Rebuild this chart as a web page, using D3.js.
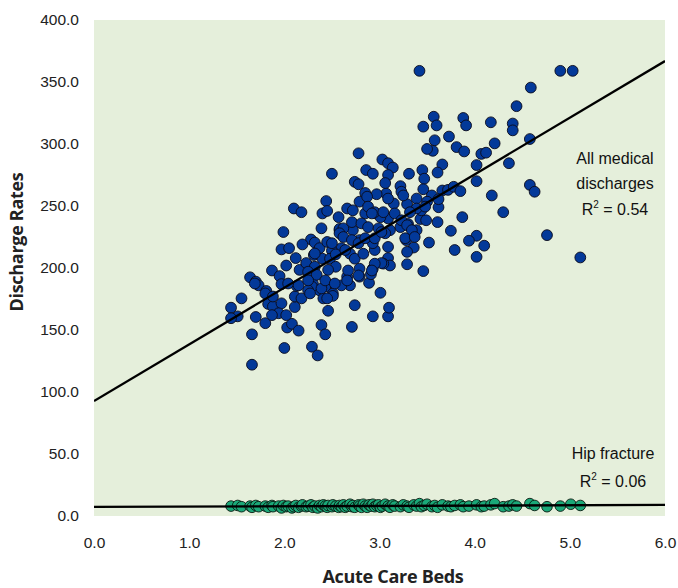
<!DOCTYPE html>
<html>
<head>
<meta charset="utf-8">
<script src="https://cdn.jsdelivr.net/npm/d3@7"></script>
<style>
  body { margin: 0; background: #fff; }
  svg { display: block; }
  .tick text { font-family: "Liberation Sans", Arial, sans-serif; font-size: 15.5px; fill: #222; }
</style>
</head>
<body>
<svg id="chart" width="678" height="588"></svg>
<script>
// ---- Data ----
const xTicks = [0, 1, 2, 3, 4, 5, 6];
const yTicks = [0, 50, 100, 150, 200, 250, 300, 350, 400];

// All medical discharges: [acute care beds, discharge rate]
const medical = [
  [3.42,359],[4.90,359],[5.03,359],[4.59,345.5],[4.44,330.5],[3.57,322],[3.60,315],[3.46,314],
  [3.88,321],[3.91,315],[4.17,317.5],[4.40,316.5],[4.40,311],[3.73,306],[3.58,303],[3.56,294.5],
  [3.50,296],[3.81,297.5],[3.89,294],[4.21,300.5],[4.58,304],[4.07,292],[4.12,293],[2.78,292.5],
  [3.03,287.5],[3.09,284.5],[3.14,281],[3.66,283.5],[4.02,283],[4.36,284.5],[2.86,279],[2.93,276],
  [3.31,276],[3.09,275],[3.45,279],[3.47,272],[3.61,277],[4.02,270],[4.58,267],[4.63,261.5],
  [2.74,269.5],[2.78,267.5],[3.22,266],[3.23,261.5],[3.46,263.5],[3.66,262.5],[3.72,263],[3.78,265.5],
  [3.85,262],[4.18,258.5],[3.07,260],[2.97,259.5],[2.85,260.5],[3.55,258.5],[4.30,245],[3.87,241],
  [3.62,249],[4.76,226.5],[5.11,208.5],[4.02,226],[3.94,222],[4.10,218],[3.79,214.5],[4.02,209],
  [3.75,230],[3.52,220.5],[3.61,237],[3.43,239.5],[3.49,238.5],[3.30,235.5],[3.36,216.5],[3.29,203],
  [3.46,197.5],[3.01,180],[3.09,217],[3.09,208],[3.11,202],[3.28,222.5],[3.29,213],[2.89,188],
  [2.69,186],[2.79,199.5],[2.93,199.5],[2.91,195],[3.04,203.5],[3.22,233],[3.11,230.5],[2.96,244],
  [3.09,240],[3.01,241],[3.29,251.5],[3.15,252],[3.25,258.5],[2.79,253.5],[2.66,248],[2.72,246.5],
  [2.85,244],[3.39,256],[3.50,253.5],[3.44,246.5],[2.72,230.5],[2.58,230.5],[2.79,222.5],[2.69,211.5],
  [2.60,216],[2.74,207.5],[2.83,211.5],[2.95,214.5],[2.93,220],[3.06,228],[2.79,193],[2.66,193],
  [2.60,186],[2.50,276],[2.10,248],[2.18,245],[2.44,254],[2.40,244],[2.45,246],[2.57,241],
  [1.99,229],[2.39,232],[2.58,231.5],[2.28,223],[2.19,219],[2.32,220.5],[2.37,216],[2.45,221],
  [2.50,214],[1.97,215],[2.05,216],[2.12,208],[2.31,210.5],[2.40,207.5],[2.48,207.5],[2.54,211],
  [2.02,202],[1.87,198],[1.95,193.5],[2.24,202.5],[2.16,198.5],[1.64,192.5],[1.70,189],[1.73,186],
  [1.81,181.5],[1.97,187],[2.54,201],[2.30,187.5],[2.37,182],[2.45,186],[2.51,179.5],[1.55,175.5],
  [1.44,168],[1.51,161],[1.44,159.5],[1.70,160.5],[1.80,155.5],[1.66,146.5],[1.66,122],[2.00,135.5],
  [2.03,152],[2.08,155],[2.15,149.5],[2.29,136.5],[2.35,129.5],[2.39,154],[2.43,146.5],[2.46,165.5],
  [2.41,175.5],[2.51,177.5],[2.43,185],[1.83,171],[1.88,169],[1.97,171.5],[1.94,163.5],[2.02,162],
  [2.11,168.5],[2.11,177],[2.13,185.5],[1.80,179.5],[1.69,187.5],[2.29,185],[2.18,175.5],[2.25,182],
  [2.39,183.5],[2.23,204],[2.32,201],[2.46,198.5],[2.25,197],[2.34,194.5],[2.04,187.5],[2.15,186],
  [2.25,190],[2.43,190],[2.32,211.7],
  [3.06,268.5],[2.87,257.5],[3.62,255.5],[2.88,249.5],[2.95,245],[3.09,256],[3.39,248],[3.48,249.5],
  [3.32,245],[3.16,244],[3.04,245],[2.92,244],[3.23,238.5],[3.29,234.5],[3.39,230.5],[2.62,232],
  [2.58,228],[2.71,237],[2.81,236],[2.88,233],[2.99,232],[3.34,230.5],[3.27,224],[3.37,225],
  [3.02,204],[2.95,203.5],[2.92,198],[2.78,194],[2.67,198],[2.66,190],[2.53,187.5],[2.45,175.5],
  [2.74,170],[2.93,161],[3.09,161],[3.10,168],[2.71,152.5],[2.62,225],[2.71,222.5],[2.50,220],
  [2.64,214.5],[2.78,220],[2.85,224],[2.95,224],[3.02,229],[1.87,162],[2.27,179.5],[1.88,177]
];

// Hip fracture: [acute care beds, discharge rate]
const hip = [
  [1.44,8],[1.51,8.5],[1.55,7.5],[1.64,8],[1.66,7],[1.70,8.5],[1.73,7.5],[1.80,8],[1.83,7],[1.87,8.5],
  [1.88,7.5],[1.94,8],[1.97,6.5],[1.99,8.5],[2.02,7.5],[2.04,8],[2.08,6.5],[2.10,7.5],[2.12,8.5],[2.15,7],
  [2.18,8],[2.19,9],[2.23,7.5],[2.25,8],[2.28,9],[2.30,7],[2.32,8],[2.35,6.5],[2.37,8.5],[2.39,7.5],
  [2.41,9],[2.43,8],[2.45,7],[2.46,8.5],[2.50,7.5],[2.51,9],[2.54,8],[2.57,7],[2.58,8.5],[2.60,7.5],
  [2.62,9],[2.64,7],[2.66,8],[2.69,9.5],[2.71,7.5],[2.72,8.5],[2.74,7],[2.78,9],[2.79,8],[2.81,7],
  [2.83,9.5],[2.85,8],[2.87,7],[2.89,9],[2.91,8],[2.93,9.5],[2.95,7.5],[2.97,8.5],[2.99,9],[3.01,7],
  [3.03,8],[3.06,9.5],[3.09,8],[3.11,7],[3.14,9],[3.16,8],[3.22,7.5],[3.25,9],[3.29,8],[3.31,7],
  [3.36,9],[3.39,8],[3.42,10],[3.44,7.5],[3.47,8.5],[3.50,9.5],[3.55,7.5],[3.58,8.5],[3.61,7],[3.66,9],
  [3.72,8],[3.75,7.5],[3.79,8.5],[3.85,9],[3.88,7.5],[3.94,8],[4.02,9],[4.07,7.5],[4.10,8],[4.17,9],
  [4.21,10],[4.30,7.5],[4.36,8],[4.40,9],[4.44,8],[4.58,10],[4.63,8.5],[4.76,7.5],[4.90,8],[5.01,9.5],
  [5.11,8.5]
];

// Linear fits: [intercept, slope]
const medicalFit = [92.7, 45.7];
const hipFit = [7.3, 0.27];

const medicalLabel = ["All medical", "discharges", "0.54"];
const hipLabel = ["Hip fracture", "0.06"];

// ---- Layout ----
const svg = d3.select("#chart");
const pLeft = 94, pRight = 665, pTop = 20, pBottom = 516;
const x = d3.scaleLinear().domain([0, 6]).range([pLeft, pRight]);
const y = d3.scaleLinear().domain([0, 400]).range([pBottom, pTop]);

svg.append("defs").append("clipPath").attr("id", "plotClip")
  .append("rect").attr("x", pLeft).attr("y", pTop).attr("width", pRight - pLeft).attr("height", pBottom - pTop);

svg.append("rect")
  .attr("x", pLeft).attr("y", pTop).attr("width", pRight - pLeft).attr("height", pBottom - pTop)
  .attr("fill", "#e5efdb");

// Axes
const yAxis = svg.append("g").attr("transform", `translate(${pLeft},0)`)
  .call(d3.axisLeft(y).tickValues(yTicks).tickFormat(d3.format(".1f")).tickSize(0).tickPadding(15));
yAxis.select(".domain").remove();

const xAxis = svg.append("g").attr("transform", `translate(0,${pBottom})`)
  .call(d3.axisBottom(x).tickValues(xTicks).tickFormat(d3.format(".1f")).tickSize(0).tickPadding(21));
xAxis.select(".domain").remove();

const plot = svg.append("g").attr("clip-path", "url(#plotClip)");

// Medical points
plot.append("g").selectAll("circle").data(medical).join("circle")
  .attr("cx", d => x(d[0])).attr("cy", d => y(d[1])).attr("r", 5.4)
  .attr("fill", "#033999").attr("stroke", "#0a0a1a").attr("stroke-width", 0.9);

// Hip points
plot.append("g").selectAll("circle").data(hip).join("circle")
  .attr("cx", d => x(d[0])).attr("cy", d => y(d[1])).attr("r", 5.3)
  .attr("fill", "#1aa878").attr("stroke", "#0a1a10").attr("stroke-width", 0.9);

// Fit lines
const line = d3.line().x(d => x(d[0])).y(d => y(d[1]));
[medicalFit, hipFit].forEach(f => {
  plot.append("path")
    .attr("d", line(x.domain().map(v => [v, f[0] + f[1] * v])))
    .attr("fill", "none").attr("stroke", "#000").attr("stroke-width", 2.3);
});

// Annotations
const annFont = "'Liberation Sans', Arial, sans-serif";
function r2Text(g, cx, cy, val) {
  const t = g.append("text").attr("x", cx).attr("y", cy).attr("text-anchor", "middle")
    .attr("font-family", annFont).attr("font-size", 16).attr("fill", "#111");
  t.append("tspan").text("R");
  t.append("tspan").attr("font-size", 10).attr("dy", -7).text("2");
  t.append("tspan").attr("dy", 7).text(" = " + val);
}
const ann = svg.append("g");
ann.append("text").attr("x", 615).attr("y", 164).attr("text-anchor", "middle")
  .attr("font-family", annFont).attr("font-size", 16).attr("fill", "#111").text(medicalLabel[0]);
ann.append("text").attr("x", 615).attr("y", 189).attr("text-anchor", "middle")
  .attr("font-family", annFont).attr("font-size", 16).attr("fill", "#111").text(medicalLabel[1]);
r2Text(ann, 615, 215, medicalLabel[2]);
ann.append("text").attr("x", 613).attr("y", 459).attr("text-anchor", "middle")
  .attr("font-family", annFont).attr("font-size", 16).attr("fill", "#111").text(hipLabel[0]);
r2Text(ann, 613, 487, hipLabel[1]);

// Axis titles
svg.append("text").attr("x", 393).attr("y", 583).attr("text-anchor", "middle")
  .attr("font-family", "'Open Sans', sans-serif").attr("font-weight", "bold").attr("font-size", 18)
  .attr("fill", "#222").attr("letter-spacing", -0.3).text("Acute Care Beds");
svg.append("text").attr("transform", "translate(23,242) rotate(-90)").attr("text-anchor", "middle")
  .attr("font-family", "'Open Sans', sans-serif").attr("font-weight", "bold").attr("font-size", 18)
  .attr("fill", "#222").attr("letter-spacing", -0.3).text("Discharge Rates");
</script>
</body>
</html>
